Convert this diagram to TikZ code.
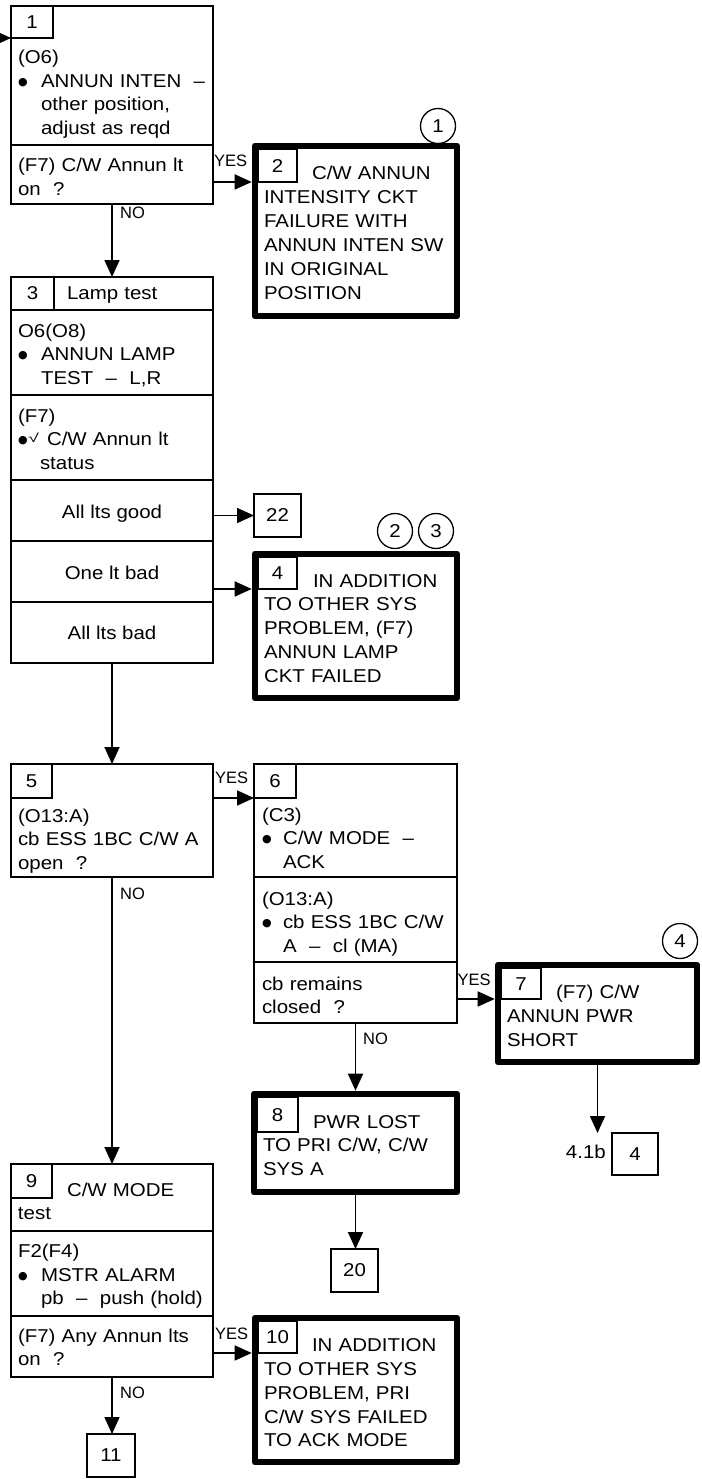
\documentclass[tikz,border=0pt]{standalone}
\usepackage{graphicx}
\usepackage{fontspec}
\setmainfont{Liberation Sans}[FakeStretch=1.1]
\newfontfamily\lblfont{Liberation Sans}
\newfontfamily\djvfont{DejaVu Sans}
\usetikzlibrary{arrows.meta}
\newcommand{\mainsz}{\fontsize{18.6pt}{23.5pt}\selectfont}
\newcommand{\thksz}{\fontsize{18.6pt}{23.8pt}\selectfont}
\newcommand{\mydot}{\raisebox{2pt}{\djvfont\fontsize{11pt}{11pt}\selectfont ●}}
\newcommand{\mybul}{\makebox[23pt][l]{\mydot}}
\newcommand{\myind}{\hspace*{23pt}}
\begin{document}
\begin{tikzpicture}[x=1pt,y=-1pt,
  thinbox/.style={draw, line width=1.7pt, outer sep=0pt, inner sep=0pt},
  thickbox/.style={draw, line width=6.6pt, line join=round, outer sep=3.3pt, inner sep=0pt},
  tagbox/.style={draw, line width=1.7pt, outer sep=0pt, inner sep=0pt, font=\mainsz},
  sep/.style={line width=1.7pt},
  txt/.style={anchor=base west, inner sep=0pt, outer sep=0pt, text width=240pt, align=left, font=\mainsz},
  ttxt/.style={txt, font=\thksz},
  ctxt/.style={anchor=base, inner sep=0pt, font=\mainsz},
  lbl/.style={anchor=west, inner sep=0pt, font=\lblfont\fontsize{16.5pt}{18pt}\selectfont},
  num/.style={circle, draw, line width=1.3pt, minimum size=35pt, inner sep=0pt, font=\mainsz},
  arr/.style={line width=1.7pt, -{Triangle[length=17pt,width=15pt]}},
]
\useasboundingbox (0,0) rectangle (701,1479);

% ---------- Box 1
\node[thinbox, minimum width=202pt, minimum height=198pt] (b1) at (112,105) {};
\node[tagbox, minimum width=42pt, minimum height=32pt] (t1) at (32,22) {1};
\draw[sep] (b1.west |- 0,145) -- (b1.east |- 0,145);
\node[txt] (x1a) at (18,64) {(O6)\\\mybul ANNUN INTEN~~–\\\myind other position,\\\myind adjust as reqd};
\node[txt] (x1b) at (18,172) {(F7) C/W Annun lt\\on~~?};

% ---------- Box 2
\node[thickbox, minimum width=202pt, minimum height=170pt] (b2) at (356,231) {};
\node[tagbox, minimum width=38.75pt, minimum height=32.75pt] (t2) at (277.6,165.6) {2};
\node[txt, font=\fontsize{18.6pt}{23.9pt}\selectfont] (x2) at (264,180) {\hspace*{48pt}C/W ANNUN\\INTENSITY CKT\\FAILURE WITH\\ANNUN INTEN SW\\IN ORIGINAL\\POSITION};
\node[num] (c1) at (438,126) {1};

% ---------- Box 3
\node[thinbox, minimum width=202pt, minimum height=386pt] (b3) at (112,470) {};
\node[tagbox, minimum width=43pt, minimum height=33pt] (t3) at (32.5,293.5) {3};
\draw[sep] (b3.west |- 0,310) -- (b3.east |- 0,310);
\draw[sep] (b3.west |- 0,395) -- (b3.east |- 0,395);
\draw[sep] (b3.west |- 0,480) -- (b3.east |- 0,480);
\draw[sep] (b3.west |- 0,541) -- (b3.east |- 0,541);
\draw[sep] (b3.west |- 0,602) -- (b3.east |- 0,602);
\node[txt] (x3h) at (67,299.5) {Lamp test};
\node[txt] (x3a) at (18,337) {O6(O8)\\\mybul ANNUN LAMP\\\myind TEST~~–~~L,R};
\node[txt] (x3b) at (18,422) {(F7)\\\makebox[10pt][l]{\mydot}\makebox[19pt][l]{\raisebox{3.5pt}{\scalebox{1.5}[1]{\fontsize{12pt}{12pt}\selectfont √}}}C/W Annun lt\\\hspace*{22pt}status};
\node[ctxt] (x3c) at (112,518.5) {All lts good};
\node[ctxt] (x3d) at (112,579) {One lt bad};
\node[ctxt] (x3e) at (112,639) {All lts bad};

\node[thinbox, minimum width=47pt, minimum height=43pt, font=\mainsz] (b22) at (277.5,515.5) {22};

% ---------- Box 4
\node[thickbox, minimum width=202pt, minimum height=144pt] (b4) at (356,626) {};
\node[tagbox, minimum width=38.75pt, minimum height=31.75pt] (t4) at (277.6,573.1) {4};
\node[ttxt] (x4) at (264,587) {\hspace*{49pt}IN ADDITION\\TO OTHER SYS\\PROBLEM, (F7)\\ANNUN LAMP\\CKT FAILED};
\node[num] (c2) at (395,531) {2};
\node[num] (c3) at (436,531) {3};

% ---------- Box 5
\node[thinbox, minimum width=202pt, minimum height=113pt] (b5) at (112,820.5) {};
\node[tagbox, minimum width=41pt, minimum height=34pt] (t5) at (31.5,781) {5};
\node[txt] (x5) at (18,822) {(O13:A)\\cb ESS 1BC C/W A\\open~~?};

% ---------- Box 6
\node[thinbox, minimum width=203pt, minimum height=259pt] (b6) at (355.5,893.5) {};
\node[tagbox, minimum width=42pt, minimum height=34pt] (t6) at (275,781) {6};
\draw[sep] (b6.west |- 0,877) -- (b6.east |- 0,877);
\draw[sep] (b6.west |- 0,962) -- (b6.east |- 0,962);
\node[txt] (x6a) at (262,821) {(C3)\\\makebox[21pt][l]{\mydot}C/W MODE~~–\\\hspace*{21pt}ACK};
\node[txt] (x6b) at (262,905) {(O13:A)\\\makebox[21pt][l]{\mydot}cb ESS 1BC C/W\\\hspace*{21pt}A~~–~~cl (MA)};
\node[txt] (x6c) at (262,990) {cb remains\\closed~~?};

% ---------- Box 7
\node[thickbox, minimum width=199pt, minimum height=97pt] (b7) at (597.5,1013.5) {};
\node[tagbox, minimum width=39.75pt, minimum height=30.75pt] (t7) at (521.1,983.6) {7};
\node[ttxt] (x7) at (507,998.5) {\hspace*{49pt}(F7) C/W\\ANNUN PWR\\SHORT};
\node[num] (c4) at (680,941) {4};

\node[thinbox, minimum width=46pt, minimum height=42pt, font=\mainsz] (b4s) at (635,1154) {4};
\node[anchor=base east, inner sep=0pt, font=\mainsz] (l41b) at (606,1158.5) {4.1b};

% ---------- Box 8
\node[thickbox, minimum width=203pt, minimum height=98pt] (b8) at (355.5,1143) {};
\node[tagbox, minimum width=40.75pt, minimum height=34.75pt] (t8) at (277.6,1114.6) {8};
\node[txt, font=\fontsize{18.6pt}{23.3pt}\selectfont] (x8) at (263,1128.5) {\hspace*{50pt}PWR LOST\\TO PRI C/W, C/W\\SYS A};

\node[thinbox, minimum width=47pt, minimum height=43pt, font=\mainsz] (b20) at (354.5,1270.5) {20};

% ---------- Box 9
\node[thinbox, minimum width=202pt, minimum height=213pt] (b9) at (112,1270.5) {};
\node[tagbox, minimum width=41pt, minimum height=34pt] (t9) at (31.5,1181) {9};
\draw[sep] (b9.west |- 0,1231) -- (b9.east |- 0,1231);
\draw[sep] (b9.west |- 0,1316) -- (b9.east |- 0,1316);
\node[txt] (x9h) at (18,1196) {\hspace*{49pt}C/W MODE\\test};
\node[txt] (x9a) at (18,1257.5) {F2(F4)\\\mybul MSTR ALARM\\\myind pb~~–~~push (hold)};
\node[txt] (x9b) at (18,1342) {(F7) Any Annun lts\\on~~?};

% ---------- Box 10
\node[thickbox, minimum width=202pt, minimum height=144pt] (b10) at (356,1390) {};
\node[tagbox, minimum width=38.75pt, minimum height=31.75pt] (t10) at (277.6,1337.1) {10};
\node[ttxt] (x10) at (264,1351.7) {\hspace*{48pt}IN ADDITION\\TO OTHER SYS\\PROBLEM, PRI\\C/W SYS FAILED\\TO ACK MODE};

\node[thinbox, minimum width=48pt, minimum height=43pt, font=\mainsz] (b11) at (111,1455.5) {11};

% ---------- YES / NO labels
\node[lbl] (y1) at (214,160.5) {YES};
\node[lbl] (n1) at (120,213) {NO};
\node[lbl] (y5) at (215,778) {YES};
\node[lbl] (n5) at (120,893.5) {NO};
\node[lbl] (y6) at (457.5,979.5) {YES};
\node[lbl] (n6) at (363,1039) {NO};
\node[lbl] (y9) at (215,1333.5) {YES};
\node[lbl] (n9) at (120,1393) {NO};

% ---------- connectors
\coordinate (start) at (-4,38);
\draw[arr] (start) -- (start -| b1.west);
\draw[arr] (b1.east |- t2.south) -- (b2.west |- t2.south);
\draw[arr] (b1.south) -- (b3.north);
\draw[arr] (b3.east |- b22.west) -- (b22.west);
\draw[arr] (b3.east |- t4.south) -- (b4.west |- t4.south);
\draw[arr] (b3.south) -- (b5.north);
\draw[arr] (b5.east |- t6.south) -- (b6.west |- t6.south);
\draw[arr] (b5.south) -- (b9.north);
\draw[arr] (b6.east |- t7.south) -- (b7.west |- t7.south);
\draw[arr] (b6.south) -- (b8.north);
\draw[arr] (b7.south) -- (b7.south |- b4s.north);
\draw[arr] (b8.south) -- (b8.south |- b20.north);
\draw[arr] (b9.east |- t10.south) -- (b10.west |- t10.south);
\draw[arr] (b9.south) -- (b9.south |- b11.north);
\end{tikzpicture}
\end{document}
